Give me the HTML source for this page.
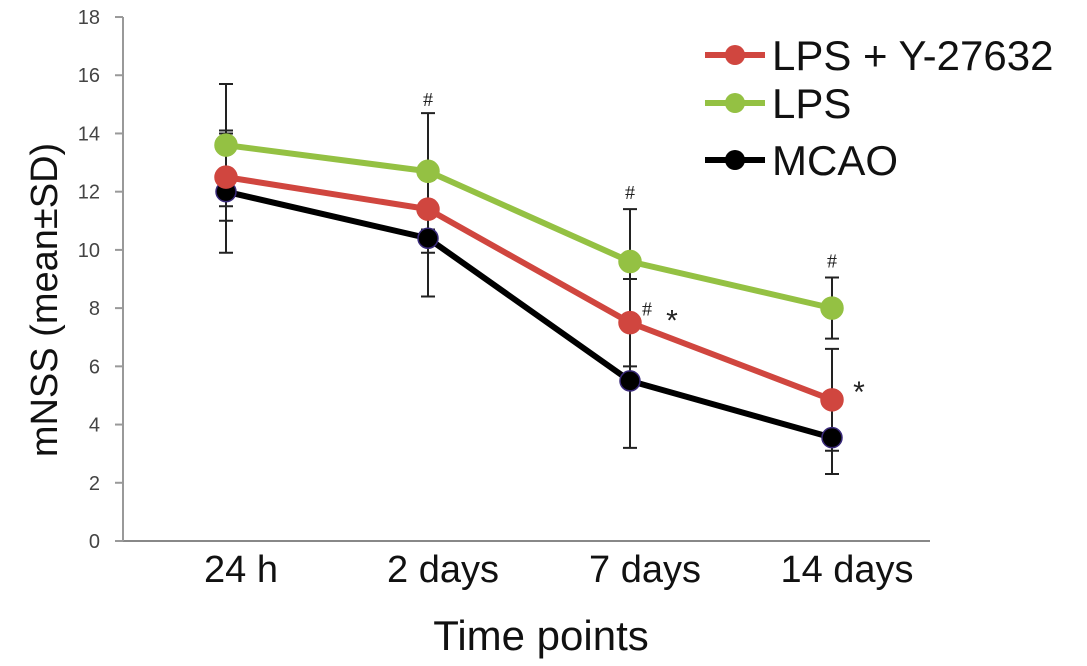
<!DOCTYPE html>
<html><head><meta charset="utf-8"><style>
body{margin:0;background:#fff}
svg{display:block;font-family:"Liberation Sans",sans-serif}
</style></head><body>
<svg id="c" width="1087" height="666"></svg>
<script>
const categories=["24 h","2 days","7 days","14 days"];
const lpsY=[12.5,11.4,7.5,4.85];
const lpsYSd=[1.5,1.5,1.5,1.75];
const lps=[13.6,12.7,9.6,8.0];
const lpsSd=[2.1,2.0,1.8,1.05];
const mcao=[12.0,10.4,5.5,3.55];
const mcaoSd=[2.1,2.0,2.3,1.25];
const yTicks=[0,2,4,6,8,10,12,14,16,18];
const NS="http://www.w3.org/2000/svg";
const svg=document.getElementById('c');
const X=i=>226+i*202;
const Y=v=>541-v*29.11;
function el(t,a,txt){const e=document.createElementNS(NS,t);for(const k in a)e.setAttribute(k,a[k]);if(txt!==undefined)e.textContent=txt;svg.appendChild(e);return e;}
let e=el('line',{x1:120,y1:541,x2:930,y2:541,stroke:'#888','stroke-width':2});


e=el('line',{x1:123,y1:Y(18),x2:123,y2:541,stroke:'#999','stroke-width':2});


yTicks.forEach(t=>{const k=el('line',{x1:115,y1:Y(t),x2:123,y2:Y(t),stroke:'#999','stroke-width':2});


const l=el('text',{x:100,y:Y(t)+7,'text-anchor':'end','font-size':20,fill:'#444'},t);

});
categories.forEach((c,i)=>{const l=el('text',{x:X(i)+15,y:582,'text-anchor':'middle','font-size':38,fill:'#111'},c);

});
e=el('text',{x:541,y:650,'text-anchor':'middle','font-size':42,fill:'#111'},'Time points');


e=el('text',{x:0,y:0,'text-anchor':'middle','font-size':38,fill:'#111',transform:'translate(57,300) rotate(-90)'},'mNSS (mean±SD)');


function errs(vals,sds,name){vals.forEach((v,i)=>{const x=X(i),a=Y(v+sds[i]),b=Y(v-sds[i]);
const g=el('path',{d:`M${x},${a}V${b}M${x-7},${a}H${x+7}M${x-7},${b}H${x+7}`,stroke:'#222','stroke-width':2,fill:'none'});

});}
errs(mcao,mcaoSd,'mcao');errs(lpsY,lpsYSd,'lps-y27632');errs(lps,lpsSd,'lps');
function series(vals,col,edge,r,name){
const p=el('polyline',{points:vals.map((v,i)=>X(i)+','+Y(v)).join(' '),fill:'none',stroke:col,'stroke-width':6});


vals.forEach((v,i)=>{const c=el('circle',{cx:X(i),cy:Y(v),r:r,fill:col,stroke:edge,'stroke-width':1.5});

});}
series(mcao,'#000','#3a2a7a',10,'mcao');
series(lpsY,'#d0463f','#d0463f',11,'lps-y27632');
series(lps,'#94c143','#94c143',11,'lps');
const marks=[[X(1),Y(14.6)-10,'#'],[X(2),Y(11.4)-10,'#'],[X(3),Y(9.05)-10,'#'],[X(2)+17,Y(7.5)-7,'#'],[X(2)+42,Y(7.5)+8,'*'],[X(3)+27,Y(4.85)+2,'*']];
marks.forEach(m=>{const t=el('text',{x:m[0],y:m[1],'text-anchor':'middle','font-size':m[2]=='*'?30:20,fill:'#222','font-family':m[2]=='*'?'Liberation Sans':'Liberation Serif'},m[2]);

});
[['LPS + Y-27632','#d0463f',55],['LPS','#94c143',103],['MCAO','#000',160]].forEach(l=>{
const g=el('line',{x1:705,y1:l[2],x2:765,y2:l[2],stroke:l[1],'stroke-width':6});


const c=el('circle',{cx:735,cy:l[2],r:10,fill:l[1]});


const t=el('text',{x:772,y:l[2]+15,'font-size':42,fill:'#111'},l[0]);

});
</script>
</body></html>
